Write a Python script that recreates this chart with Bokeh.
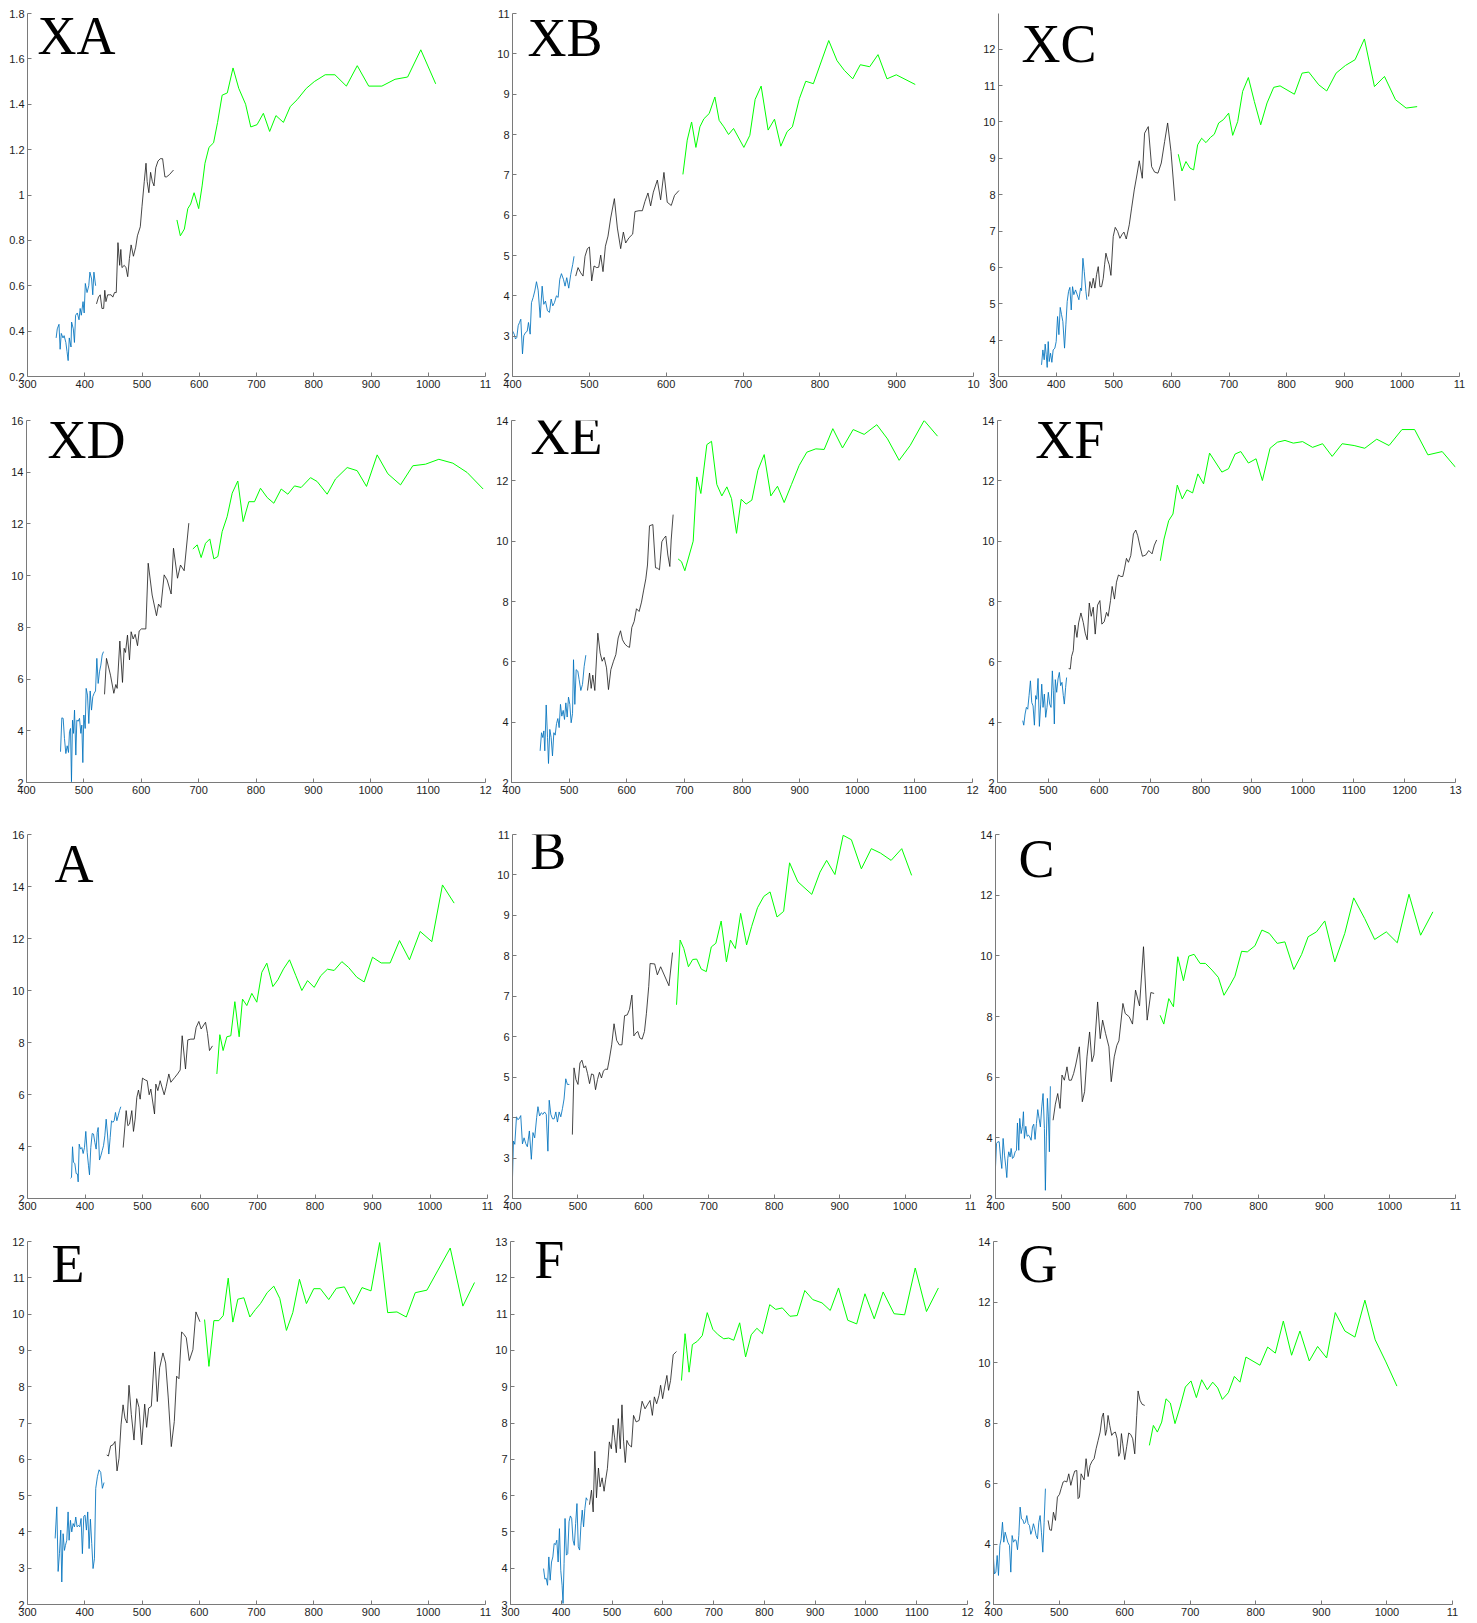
from bokeh.plotting import figure
from bokeh.layouts import column, row
from bokeh.models import Label, FixedTicker, NumeralTickFormatter, Range1d
from bokeh.embed import file_html
from bokeh.resources import INLINE

# ---------------- data ----------------
XA_blue_x = [350,352,355,357,359,362,364,367,369,371,373,376,377,380,382,384,387,390,392,394,397,399,401,404,407,409,412,414,416,419]
XA_blue_y = [0.37,0.41,0.43,0.32,0.39,0.37,0.38,0.35,0.31,0.27,0.37,0.33,0.44,0.41,0.35,0.47,0.48,0.45,0.50,0.47,0.53,0.48,0.61,0.57,0.60,0.66,0.63,0.56,0.66,0.60]
XA_black_x = [420.5,424,427,430,433,435,437,440,443,446,449,452,455,458,461,463,465,469,472,475,478,481,485,489,492,497,500,504,507,509,512,515,518,521,524,528,532,536,540,543,548,555]
XA_black_y = [0.52,0.55,0.56,0.50,0.50,0.58,0.53,0.56,0.56,0.56,0.55,0.57,0.57,0.79,0.69,0.76,0.68,0.69,0.68,0.64,0.72,0.78,0.73,0.77,0.82,0.86,0.95,1.06,1.14,1.06,1.01,1.10,1.06,1.04,1.12,1.15,1.16,1.16,1.08,1.08,1.09,1.11]
XA_green_x = [561,567,574,580,585,591,599,605,610,617,625,632,640,649,659,669,681,690,701,712,723,734,747,759,771,787,801,820,837,857,876,896,919,942,964,987,1013]
XA_green_y = [0.89,0.82,0.85,0.94,0.96,1.01,0.94,1.04,1.14,1.21,1.23,1.32,1.44,1.45,1.56,1.47,1.40,1.30,1.31,1.36,1.28,1.35,1.32,1.39,1.42,1.47,1.50,1.53,1.53,1.48,1.57,1.48,1.48,1.51,1.52,1.64,1.49]

XB_blue_x = [400,402.2,403.9,405.6,407.4,409.1,410.8,413.0,414.7,416.9,419.1,420.8,423.0,424.7,426.9,429.0,431.2,433.4,436.0,438.6,440.7,442.9,445.5,448.1,450.3,452.4,454.6,457.2,459.4,461.5,463.7,466.3,468.4,470.6,473.2,475.8,478.4,480.1]
XB_blue_y = [3.13,3.05,2.93,2.97,3.26,3.34,3.42,2.56,3.01,3.09,3.12,3.34,3.05,3.83,3.96,4.12,4.35,4.14,3.46,4.24,3.79,3.87,3.63,3.59,3.92,3.75,3.83,4.00,3.96,4.41,4.55,4.41,4.24,4.45,4.19,4.53,4.78,4.98]
XB_black_x = [482.3,485.3,488.8,491.8,494.4,497.5,500.1,503.1,506.1,509.6,512.2,514.8,517.8,520.9,524.3,527.8,532.6,536.5,540.8,544.3,547.3,551.6,556.4,559.4,564.6,569.0,572.4,576.3,579.8,583.3,588.5,592.8,597.1,601.4,606.6,610.9,616.6]
XB_black_y = [4.49,4.70,4.57,4.49,4.98,5.17,5.21,4.37,4.74,4.70,4.71,5.01,4.60,5.23,5.48,5.93,6.41,5.68,5.17,5.58,5.31,5.44,5.53,6.09,6.11,6.11,6.34,6.55,6.23,6.57,6.87,6.38,7.06,6.32,6.24,6.49,6.61]
XB_green_x = [621.8,627.4,633.1,638.7,643.9,649.1,656.0,663.4,669.0,675.1,681.2,687.7,701.1,708.9,715.8,723.6,732.7,741.0,749.2,757.4,764.3,773.4,781.7,791.6,811.6,822.4,831.9,842.8,852.7,864.9,875.7,887.4,899.5,924.2]
XB_green_y = [7.01,7.86,8.31,7.68,8.19,8.39,8.52,8.93,8.35,8.19,8.00,8.15,7.68,7.98,8.87,9.20,8.11,8.38,7.71,8.07,8.19,8.89,9.32,9.26,10.33,9.83,9.59,9.38,9.73,9.68,9.98,9.38,9.48,9.24]

XC_blue_x = [374.7,377.0,379.3,381.0,382.8,384.5,386.3,388.0,390.3,392.6,394.9,397.8,400.1,402.5,404.8,407.1,409.4,411.7,414.6,416.9,419.2,421.6,423.9,426.2,428.5,430.8,433.7,436.6,439.5,442.4,444.1,446.5,448.8,451.7,453.4]
XC_blue_y = [3.32,3.73,3.46,3.89,3.60,3.25,3.96,3.41,3.64,3.39,3.73,3.78,3.96,4.65,4.15,4.90,4.70,4.51,3.78,4.42,5.06,5.34,5.45,4.83,5.47,5.25,5.38,5.25,5.11,5.43,5.36,6.25,5.89,5.34,5.11]
XC_black_x = [456.3,458.6,461.5,464.4,467.3,470.2,473.1,476.0,478.9,481.8,484.1,486.4,489.3,492.2,495.1,499.1,502.6,506.7,510.7,514.2,517.7,521.7,526.9,531.0,535.6,540.2,544.3,549.5,553.5,559.9,565.7,570.9,576.7,582.5,588.3,593.5,599.3,606.2]
XC_black_y = [5.20,5.61,5.43,5.70,5.43,5.80,6.02,5.47,5.47,5.70,6.07,6.39,6.21,6.07,5.78,6.85,7.10,6.99,6.80,6.90,6.97,6.78,7.17,7.63,8.13,8.54,8.93,8.45,9.69,9.87,8.77,8.62,8.59,8.87,9.46,9.97,9.19,7.83]
XC_green_x = [612.0,618.4,625.3,632.3,638.6,645.6,652.5,660.1,667.6,674.5,682.1,690.2,699.4,706.4,715.1,723.7,733.6,744.0,755.0,766.0,777.6,788.6,813.5,826.8,838.4,855.7,869.6,885.8,902.0,918.8,935.0,952.4,969.8,988.9,1007.4,1026.5]
XC_green_y = [9.11,8.65,8.91,8.73,8.68,9.37,9.55,9.43,9.57,9.66,9.97,10.06,10.24,9.63,10.01,10.84,11.22,10.56,9.92,10.52,10.95,10.99,10.76,11.34,11.37,11.02,10.85,11.34,11.55,11.71,12.28,10.97,11.25,10.61,10.38,10.42]

XD_blue_x = [459.3,461.6,463.9,466.2,468.6,470.9,473.2,474.9,476.7,478.4,480.2,481.9,483.7,486.0,487.7,490.1,492.4,494.7,496.4,498.2,499.9,502.3,504.0,506.3,508.6,511.0,513.3,515.6,517.9,520.3,522.6,524.9,527.2,529.6,531.9,534.2]
XD_blue_y = [3.19,4.50,4.48,3.70,3.12,3.42,3.16,3.96,4.09,2.03,4.41,3.90,4.80,3.06,4.41,4.37,4.48,3.90,4.22,2.77,4.61,4.09,5.64,5.38,4.28,5.54,4.80,5.32,5.45,5.54,6.80,5.83,6.28,6.54,6.93,7.06]
XD_black_x = [536.0,539.4,546.4,552.2,555.7,558.0,562.7,567.3,570.2,572.5,576.0,579.5,582.4,585.9,589.4,593.5,596.4,600.4,608.0,612.1,619.0,626.6,630.1,634.1,639.9,645.2,652.1,656.2,663.2,668.4,674.8,682.9]
XD_black_y = [5.41,6.80,6.15,5.45,5.79,5.64,7.47,5.87,7.19,7.03,7.70,6.74,7.83,7.55,7.73,7.29,7.86,7.94,7.94,10.48,9.25,8.45,8.90,8.77,10.03,9.83,9.29,11.06,9.90,10.41,10.19,12.03]
XD_green_x = [689.9,697.5,704.4,712.0,719.5,726.5,733.5,741.0,749.7,758.5,768.3,777.6,787.5,797.4,807.8,819.5,831.1,843.9,855.5,867.1,878.7,895.0,906.6,924.0,938.6,958.9,976.3,992.6,1011.2,1029.8,1051.9,1073.3,1095.4,1118.7,1143.1,1168.0,1195.9]
XD_green_y = [11.03,11.19,10.70,11.25,11.42,10.65,10.74,11.70,12.28,13.19,13.66,12.09,12.86,12.86,13.38,13.02,12.80,13.35,13.15,13.47,13.41,13.79,13.64,13.15,13.74,14.18,14.06,13.45,14.67,13.94,13.51,14.25,14.31,14.50,14.35,13.99,13.35]

XE_blue_x = [449.7,452.1,454.4,456.1,457.8,460.2,462.5,464.2,466.5,468.8,471.1,473.5,475.8,478.1,480.4,482.7,485.0,487.3,489.7,492.0,494.3,496.6,498.9,501.2,503.5,505.9,507.6,509.9,512.2,515.1,517.4,520.3,523.2,526.1,529.0]
XE_blue_y = [3.05,3.65,3.49,3.71,3.05,4.57,3.49,2.63,3.76,3.49,2.88,3.65,3.57,3.95,4.12,3.82,4.59,4.20,4.39,4.09,4.64,4.17,4.83,4.59,3.98,4.28,6.07,4.59,5.74,5.69,5.41,5.05,5.25,5.85,6.22]
XE_black_x = [531.9,535.4,538.3,541.1,544.6,549.8,553.9,557.3,560.8,564.9,568.3,572.4,577.0,581.1,585.1,589.2,592.6,596.7,601.3,604.8,608.8,612.9,616.9,621.5,625.6,629.1,633.1,636.0,639.5,645.3,649.9,653.4,656.8,660.9,664.3,667.8,671.3,674.8,677.1,680.5]
XE_black_y = [5.05,5.63,5.12,5.56,5.05,6.95,6.29,6.02,6.15,5.80,5.08,5.74,6.02,6.24,6.79,7.03,6.73,6.59,6.51,6.48,7.14,7.34,7.76,7.67,7.98,8.35,8.75,9.21,10.51,10.55,9.12,9.10,9.05,9.98,10.09,10.17,9.54,9.16,10.04,10.88]
XE_green_x = [689.2,695.0,700.8,715.3,721.6,728.6,739.0,747.1,756.3,765.0,773.7,781.8,790.5,798.6,807.2,817.1,827.5,838.5,850.0,861.6,873.2,885.9,899.2,912.5,928.1,942.6,957.6,974.4,992.9,1012.0,1034.0,1052.5,1072.7,1091.8,1116.1,1139.3]
XE_green_y = [9.41,9.32,9.02,10.00,12.13,11.58,13.20,13.31,11.88,11.50,11.80,11.41,10.26,11.39,11.23,11.36,12.35,12.87,11.50,11.82,11.28,11.88,12.51,12.95,13.06,13.04,13.73,13.09,13.70,13.54,13.86,13.39,12.68,13.17,14.00,13.48]

XF_blue_x = [449.6,451.6,454.2,456.8,459.4,462.0,464.7,467.3,469.9,472.5,475.1,477.1,479.7,482.3,484.9,486.9,489.5,492.1,494.7,497.3,499.9,502.5,505.2,507.8,509.7,511.7,513.6,516.3,518.9,521.5,524.1,526.7,529.3,531.3,533.9,535.8]
XF_blue_y = [4.05,3.90,4.27,4.49,4.43,4.88,5.37,4.65,4.54,3.90,4.88,4.76,5.45,3.86,4.60,5.26,4.49,4.93,4.16,4.49,4.99,4.60,4.49,5.70,5.04,3.94,5.41,4.99,5.43,5.65,5.21,5.32,4.88,4.60,5.15,5.48]
XF_black_x = [539.8,543.0,545.6,548.9,552.2,556.1,559.4,563.9,568.5,572.4,576.3,580.3,584.2,588.1,592.0,596.6,601.2,605.1,609.7,614.2,617.5,622.1,625.3,629.9,633.8,637.7,642.3,646.2,649.5,653.4,657.3,661.9,667.1,671.7,675.6,679.5,684.8,691.3,697.2,703.7,708.3,712.8]
XF_black_y = [5.78,5.76,6.18,6.37,7.22,6.81,7.29,7.62,7.31,6.95,6.73,7.95,7.51,7.81,6.92,7.88,8.03,7.25,7.33,7.64,7.51,8.03,8.50,8.08,8.64,8.88,8.83,8.83,9.08,9.43,9.30,9.52,10.24,10.37,10.18,9.87,9.50,9.54,9.69,9.58,9.87,10.04]
XF_green_x = [720.0,727.2,736.4,744.8,753.3,763.1,772.3,783.4,793.8,804.9,816.7,840.9,853.9,867.0,878.1,893.1,908.1,920.5,935.6,949.9,964.9,981.3,999.6,1019.2,1038.8,1057.7,1077.3,1100.8,1121.7,1145.2,1169.4,1194.8,1219.7,1245.8,1273.9,1300.0]
XF_green_y = [9.35,10.07,10.68,10.90,11.86,11.40,11.70,11.60,12.23,11.90,12.92,12.29,12.40,12.89,12.97,12.59,12.73,12.01,13.08,13.28,13.34,13.25,13.30,13.11,13.23,12.81,13.23,13.17,13.08,13.38,13.17,13.70,13.70,12.86,12.97,12.45]

A_blue_x = [374.8,376.5,378.3,380.0,382.3,384.6,387.0,388.1,389.9,392.2,394.5,396.8,399.1,401.4,403.8,406.1,407.8,410.1,412.5,414.8,417.1,419.4,421.2,422.9,425.2,427.5,429.9,432.2,434.5,436.8,439.1,441.4,443.8,446.1,448.4,450.7,453.0,455.4,457.7,460.0,462.3]
A_blue_y = [2.78,2.81,3.99,3.39,3.35,2.96,2.94,2.64,4.09,3.90,3.96,3.73,3.96,4.58,3.77,3.26,2.91,3.96,4.50,4.48,4.16,3.90,4.54,4.73,3.48,3.64,3.84,4.03,4.41,5.05,4.48,3.71,4.35,4.99,4.93,4.99,5.31,4.99,5.18,5.38,5.53]
A_black_x = [466.4,471.6,474.5,477.4,481.4,484.3,487.2,490.1,493.0,495.9,500.0,504.6,508.1,511.6,514.5,520.9,523.2,526.7,530.7,537.7,541.2,545.8,549.3,556.2,560.9,565.5,569.0,574.8,578.8,584.1,589.9,593.3,598.0,602.0,609.6,613.0,616.5,621.7]
A_black_y = [3.96,5.38,4.80,4.86,5.38,4.58,5.05,5.89,6.17,5.82,6.63,6.56,6.53,5.99,6.21,5.25,6.40,6.15,6.53,5.99,6.30,6.79,6.47,6.66,6.79,6.94,8.26,6.98,8.10,8.13,8.13,8.58,8.81,8.52,8.78,8.35,7.69,7.87]
A_green_x = [629.3,634.5,640.2,646.7,653.6,660.6,668.1,673.9,681.4,690.1,698.8,707.5,716.2,726.7,735.4,745.2,755.7,766.7,777.1,787.0,798.6,810.1,821.7,833.3,846.7,858.3,872.8,885.5,900.0,915.1,930.7,947.0,964.3,982.9,1003.2,1021.7,1042.0]
A_green_y = [6.79,8.30,7.69,8.22,8.26,9.57,8.22,9.67,9.42,9.89,9.55,10.70,11.05,10.15,10.41,10.83,11.18,10.57,10.00,10.38,10.12,10.57,10.82,10.77,11.11,10.89,10.51,10.33,11.28,11.06,11.06,11.92,11.18,12.27,11.88,14.06,13.36]

B_blue_x = [400.0,401.5,403.5,406.1,408.1,410.1,412.6,415.2,417.7,420.2,422.7,425.8,428.8,431.3,433.9,436.9,438.9,441.4,444.0,446.5,449.0,451.6,454.1,456.1,458.6,461.2,463.7,466.2,468.7,471.3,473.8,476.3,478.8,481.4,483.9,486.9]
B_blue_y = [2.52,3.42,3.34,4.02,3.95,3.97,4.05,3.35,3.50,3.36,3.28,3.67,2.97,3.63,3.50,4.00,4.27,4.04,4.12,4.08,4.14,4.08,3.17,4.43,4.08,3.97,3.97,4.14,3.89,4.14,4.02,4.22,4.46,4.96,4.82,4.82]
B_black_x = [491.5,494.0,497.0,500.1,503.1,506.1,509.2,511.7,514.7,517.8,520.8,523.8,526.9,529.9,532.9,536.0,539.0,542.0,545.1,548.1,551.6,555.2,559.2,563.2,567.3,571.3,575.4,578.9,582.5,585.5,588.5,591.5,594.6,598.1,601.7,604.7,608.2,610.3,617.3,621.4,626.4,639.1,644.6]
B_black_y = [3.58,5.23,4.94,4.82,5.35,5.42,5.23,5.28,5.09,4.84,5.08,5.06,4.69,4.94,5.12,4.98,5.15,5.20,5.19,5.45,5.80,6.32,5.91,5.80,5.80,6.52,6.54,6.68,7.03,6.02,6.09,6.13,5.97,5.94,6.13,6.58,7.24,7.81,7.80,7.53,7.73,7.26,8.08]
B_green_x = [650.7,656.2,661.8,668.9,675.4,681.5,688.6,696.2,703.8,710.8,718.9,727.0,733.1,740.6,748.7,757.8,765.4,774.5,784.1,793.7,804.3,814.4,823.5,836.2,857.4,870.0,880.1,892.8,905.4,918.0,933.2,948.4,962.5,978.7,994.9,1010.0]
B_green_y = [6.79,8.39,8.18,7.73,7.91,7.92,7.67,7.61,8.22,8.31,8.86,7.85,8.39,8.18,9.05,8.27,8.72,9.19,9.47,9.58,8.96,9.10,10.30,9.83,9.52,10.07,10.36,10.01,10.98,10.87,10.15,10.65,10.54,10.36,10.65,9.99]

C_blue_x = [400.0,401.5,403.5,405.6,407.6,409.6,411.6,413.7,415.7,417.2,418.7,420.2,422.3,423.8,425.8,427.8,429.9,431.9,433.4,435.4,436.9,439.0,441.0,442.5,444.0,446.1,448.1,450.1,452.1,454.2,456.2,458.2,460.2,462.3,464.3,466.3,468.3,470.4,472.4,474.4,475.9,477.4,479.0,480.5,482.0,483.5]
C_blue_y = [3.04,3.81,3.87,3.87,3.37,2.99,3.98,3.43,3.04,2.69,3.32,3.54,3.37,3.65,3.32,3.37,3.54,3.59,4.49,3.59,4.64,4.14,4.38,4.86,3.98,4.38,4.05,4.09,4.03,3.92,4.36,4.45,3.95,4.47,4.93,4.64,4.36,5.02,5.46,4.31,2.27,4.03,5.30,4.69,3.54,5.70]
C_black_x = [487.6,491.1,494.7,498.2,501.2,504.8,508.8,511.9,515.4,518.9,522.0,527.6,532.1,535.6,539.2,543.2,546.8,549.8,555.4,559.4,563.0,567.5,572.6,576.1,580.7,584.7,587.8,593.9,597.4,603.5,608.5,613.1,619.2,625.2,630.8,636.4,641.4]
C_black_y = [4.58,5.11,5.46,4.97,6.07,5.90,6.34,5.90,5.90,6.12,6.40,7.00,5.19,5.52,6.67,7.49,6.51,6.73,8.48,7.27,7.88,7.44,7.00,5.85,6.67,7.05,7.20,8.43,8.10,7.99,7.75,8.87,8.35,10.30,7.88,8.79,8.76]
C_green_x = [650.5,656.1,663.7,670.8,677.4,686.0,694.1,702.2,711.3,719.4,729.5,739.1,747.7,756.8,764.4,774.5,783.2,794.8,805.4,816.6,828.7,840.4,854.0,865.7,875.8,888.4,901.1,916.3,931.5,945.1,961.8,977.0,994.7,1011.4,1029.2,1046.9,1065.6]
C_green_y = [8.04,7.75,8.59,8.32,9.97,9.18,9.99,10.05,9.75,9.75,9.53,9.29,8.70,9.03,9.33,10.15,10.13,10.33,10.85,10.74,10.41,10.46,9.55,10.04,10.63,10.79,11.15,9.80,10.74,11.91,11.23,10.54,10.79,10.43,12.03,10.68,11.45]

E_blue_x = [348.3,351.2,353.5,355.8,358.1,359.9,362.2,364.5,366.3,368.6,370.9,372.7,375.0,377.3,379.7,382.0,384.3,386.6,389.0,391.3,393.6,395.9,398.3,400.6,402.9,405.2,407.6,409.9,412.2,414.5,416.9,419.2,422.1,425.0,427.9,430.8,433.7]
E_blue_y = [3.82,4.69,2.91,3.40,4.05,2.62,3.95,3.49,3.63,3.77,4.55,3.77,4.32,4.00,4.23,4.14,4.41,4.14,4.18,4.14,4.37,3.40,4.43,4.46,4.05,4.55,3.54,4.35,3.68,2.99,3.26,5.20,5.52,5.71,5.64,5.20,5.36]
E_black_x = [438.4,441.3,445.3,449.4,452.9,456.4,459.9,463.4,466.9,470.3,473.8,477.3,481.4,486.0,490.7,494.8,499.4,504.7,508.1,511.6,516.3,522.1,526.7,530.8,536.6,541.3,545.9,551.2,556.4,560.5,564.5,569.2,573.3,577.3,582.6,588.9,594.2,601.2]
E_black_y = [6.12,6.09,6.37,6.40,6.49,5.68,6.03,6.95,7.50,7.13,7.00,8.04,7.23,6.53,7.67,7.43,6.40,7.52,6.88,7.41,7.46,8.96,7.59,8.52,8.93,8.65,7.69,6.35,7.04,8.29,8.22,9.51,9.44,9.35,8.72,9.02,10.06,9.79]
E_green_x = [609.3,616.9,625.6,634.3,641.9,650.6,658.7,667.4,677.9,688.4,698.3,707.0,718.6,730.2,740.7,752.3,763.4,775.0,787.2,800.0,811.6,826.2,839.5,853.5,869.8,884.3,900.0,915.1,929.1,945.3,961.6,977.3,997.7,1016.3,1038.4,1060.5,1080.8]
E_green_y = [9.85,8.56,9.82,9.82,9.96,10.99,9.78,10.41,10.45,9.92,10.13,10.29,10.59,10.77,10.43,9.55,10.04,10.96,10.29,10.70,10.70,10.40,10.71,10.75,10.27,10.73,10.64,11.97,10.04,10.06,9.92,10.59,10.66,11.19,11.82,10.22,10.87]

F_blue_x = [365.1,367.7,370.3,372.9,375.5,378.1,380.8,383.4,386.0,388.6,391.2,393.8,396.4,399.0,401.6,403.5,405.5,407.4,410.1,412.7,415.3,417.9,420.5,423.1,425.7,428.3,430.9,433.5,436.1,438.7,441.3,443.9,446.5,449.1,451.7]
F_blue_y = [3.99,3.70,3.72,3.53,4.31,3.67,4.17,4.31,4.68,4.65,4.77,4.17,5.09,3.94,3.53,3.03,4.13,5.37,4.36,4.40,5.28,5.44,5.37,4.77,4.63,5.23,5.78,4.59,4.50,5.18,5.60,5.14,5.64,5.94,5.87]
F_black_x = [455.6,459.5,462.8,466.1,469.3,473.2,476.5,480.4,484.3,487.5,490.8,494.7,498.6,501.9,505.1,508.4,512.3,516.2,519.5,522.7,526.0,529.2,533.1,538.3,542.3,547.5,553.3,559.2,565.0,569.6,574.8,579.4,583.3,587.8,592.4,595.6,599.6,603.5,608.0,611.3,615.2,620.4,626.9]
F_black_y = [5.75,6.15,5.55,7.22,5.94,6.76,6.24,6.49,6.12,6.45,6.74,7.48,7.29,7.94,7.59,7.18,8.12,7.29,8.50,7.50,6.91,7.52,7.40,7.34,8.21,8.03,8.07,8.60,8.39,8.50,8.62,8.21,8.72,8.53,8.76,9.04,8.67,8.99,9.31,8.90,9.17,9.88,9.97]
F_green_x = [636.7,643.8,651.7,658.2,667.9,677.7,687.5,698.5,709.0,720.0,729.8,739.6,751.3,763.0,774.1,785.2,796.2,810.5,822.3,835.3,850.3,864.6,879.6,895.2,913.4,929.7,946.0,964.2,981.8,998.1,1016.3,1033.9,1055.4,1076.2,1097.1,1119.2,1142.7]
F_green_y = [9.17,10.46,9.40,10.16,10.25,10.41,11.04,10.58,10.43,10.32,10.34,10.28,10.76,9.82,10.43,10.61,10.46,11.26,11.13,11.17,10.94,10.96,11.65,11.40,11.31,11.10,11.72,10.83,10.73,11.56,10.87,11.61,11.01,10.98,12.27,11.07,11.72]

G_blue_x = [400.0,401.5,403.6,405.6,407.6,409.7,411.7,413.7,415.7,417.8,419.8,421.8,424.4,426.4,428.4,430.5,432.5,434.5,436.6,438.6,440.6,442.7,444.7,446.7,448.8,450.8,452.8,454.9,456.9,458.9,460.9,463.0,465.0,467.1,469.1,471.1,473.1,475.2,477.2,479.2]
G_blue_y = [3.51,3.01,3.07,3.62,2.96,3.95,4.17,4.72,4.06,4.39,4.23,4.06,3.95,3.07,4.28,4.06,4.14,4.12,3.81,4.28,5.22,4.83,4.80,4.67,4.72,4.94,4.67,4.61,4.32,4.45,4.67,4.50,4.28,4.17,4.72,4.94,4.39,3.73,4.72,5.83]
G_black_x = [483.3,485.8,488.4,491.4,494.5,497.5,500.6,503.1,506.2,508.7,511.8,514.8,517.9,520.9,523.9,527.0,529.0,531.1,533.6,536.1,538.2,541.2,544.3,547.3,550.4,553.4,556.5,559.5,562.6,565.6,567.6,570.7,572.7,574.7,577.3,580.3,582.9,585.9,588.5,591.0,593.0,595.1,597.1,600.1,603.2,606.2,609.3,612.3,615.4,618.4,620.5,623.5,626.6,630.6]
G_black_y = [4.78,4.47,4.45,5.05,4.78,5.55,5.64,5.83,6.05,6.08,6.05,6.32,5.94,6.21,6.41,6.43,5.50,5.55,6.32,6.21,6.12,6.82,6.23,6.60,6.74,6.82,7.15,7.42,7.70,8.20,8.33,7.59,7.78,8.25,7.92,7.59,7.67,7.70,7.48,6.90,7.01,7.65,7.31,6.79,7.23,7.67,7.62,7.48,6.98,8.25,9.06,8.75,8.62,8.58]
G_green_x = [637.7,643.8,649.9,656.5,663.1,669.7,676.8,684.5,692.6,701.2,709.4,717.5,726.1,734.3,741.9,749.0,758.1,767.3,775.9,785.0,806.4,818.1,829.8,842.0,854.6,867.3,881.6,894.3,908.0,921.2,935.9,951.2,966.4,982.1,998.4,1015.2]
G_green_y = [7.26,7.92,7.70,8.03,8.80,8.66,7.98,8.53,9.19,9.39,8.84,9.43,9.10,9.35,9.16,8.78,9.00,9.54,9.35,10.18,9.91,10.51,10.31,11.37,10.24,11.04,10.05,10.53,10.15,11.65,11.04,10.84,12.06,10.75,10.02,9.22]

# axis ranges and tick labels
XA_xrange = (300, 1100); XA_yrange = (0.2, 1.8)
XB_xrange = (400, 1000); XB_yrange = (2, 11)
XC_xrange = (300, 1100); XC_yrange = (3, 12.98)
XD_xrange = (400, 1200); XD_yrange = (2, 16)
XE_xrange = (400, 1200); XE_yrange = (2, 14)
XF_xrange = (400, 1300); XF_yrange = (2, 14)
A_xrange = (300, 1100); A_yrange = (2, 16)
B_xrange = (400, 1100); B_yrange = (2, 11)
C_xrange = (400, 1100); C_yrange = (2, 14)
E_xrange = (300, 1100); E_yrange = (2, 12)
F_xrange = (300, 1200); F_yrange = (3, 13)
G_xrange = (400, 1100); G_yrange = (2, 14)

xticks_300_1100 = [300, 400, 500, 600, 700, 800, 900, 1000, 1100]
xticks_300_1200 = [300, 400, 500, 600, 700, 800, 900, 1000, 1100, 1200]
xticks_400_1000 = [400, 500, 600, 700, 800, 900, 1000]
xticks_400_1100 = [400, 500, 600, 700, 800, 900, 1000, 1100]
xticks_400_1200 = [400, 500, 600, 700, 800, 900, 1000, 1100, 1200]
xticks_400_1300 = [400, 500, 600, 700, 800, 900, 1000, 1100, 1200, 1300]
yticks_02_18 = [0.2, 0.4, 0.6, 0.8, 1.0, 1.2, 1.4, 1.6, 1.8]
yticks_2_11 = [2, 3, 4, 5, 6, 7, 8, 9, 10, 11]
yticks_3_12 = [3, 4, 5, 6, 7, 8, 9, 10, 11, 12]
yticks_2_16 = [2, 4, 6, 8, 10, 12, 14, 16]
yticks_2_14 = [2, 4, 6, 8, 10, 12, 14]
yticks_2_12 = [2, 3, 4, 5, 6, 7, 8, 9, 10, 11, 12]
yticks_3_13 = [3, 4, 5, 6, 7, 8, 9, 10, 11, 12, 13]

# the last x tick label of every panel is cut off at the panel edge in the source
XA_xlast = "11"; XB_xlast = "10"; XC_xlast = "11"
XD_xlast = "12"; XE_xlast = "12"; XF_xlast = "13"
A_xlast = "11"; B_xlast = "11"; C_xlast = "11"
E_xlast = "11"; F_xlast = "12"; G_xlast = "11"

PANELS = {
    "XA": (XA_xrange, XA_yrange, xticks_300_1100, yticks_02_18, XA_xlast, XA_blue_x, XA_blue_y, XA_black_x, XA_black_y, XA_green_x, XA_green_y),
    "XB": (XB_xrange, XB_yrange, xticks_400_1000, yticks_2_11, XB_xlast, XB_blue_x, XB_blue_y, XB_black_x, XB_black_y, XB_green_x, XB_green_y),
    "XC": (XC_xrange, XC_yrange, xticks_300_1100, yticks_3_12, XC_xlast, XC_blue_x, XC_blue_y, XC_black_x, XC_black_y, XC_green_x, XC_green_y),
    "XD": (XD_xrange, XD_yrange, xticks_400_1200, yticks_2_16, XD_xlast, XD_blue_x, XD_blue_y, XD_black_x, XD_black_y, XD_green_x, XD_green_y),
    "XE": (XE_xrange, XE_yrange, xticks_400_1200, yticks_2_14, XE_xlast, XE_blue_x, XE_blue_y, XE_black_x, XE_black_y, XE_green_x, XE_green_y),
    "XF": (XF_xrange, XF_yrange, xticks_400_1300, yticks_2_14, XF_xlast, XF_blue_x, XF_blue_y, XF_black_x, XF_black_y, XF_green_x, XF_green_y),
    "A": (A_xrange, A_yrange, xticks_300_1100, yticks_2_16, A_xlast, A_blue_x, A_blue_y, A_black_x, A_black_y, A_green_x, A_green_y),
    "B": (B_xrange, B_yrange, xticks_400_1100, yticks_2_11, B_xlast, B_blue_x, B_blue_y, B_black_x, B_black_y, B_green_x, B_green_y),
    "C": (C_xrange, C_yrange, xticks_400_1100, yticks_2_14, C_xlast, C_blue_x, C_blue_y, C_black_x, C_black_y, C_green_x, C_green_y),
    "E": (E_xrange, E_yrange, xticks_300_1100, yticks_2_12, E_xlast, E_blue_x, E_blue_y, E_black_x, E_black_y, E_green_x, E_green_y),
    "F": (F_xrange, F_yrange, xticks_300_1200, yticks_3_13, F_xlast, F_blue_x, F_blue_y, F_black_x, F_black_y, F_green_x, F_green_y),
    "G": (G_xrange, G_yrange, xticks_400_1100, yticks_2_14, G_xlast, G_blue_x, G_blue_y, G_black_x, G_black_y, G_green_x, G_green_y),
}

# ---------------- layout (page pixels; the bokeh page has no body margin) ----------------
GRID = [["XA", "XB", "XC"], ["XD", "XE", "XF"], ["A", "B", "C"], ["E", "F", "G"]]
ROW_Y = [0, 402, 814, 1222, 1621]
ROW_FRAME_Y = [(13, 376), (420, 782), (834, 1198), (1241, 1604)]
ROW_X = [[0, 492, 980, 1466], [0, 492, 979, 1462], [0, 494, 977, 1462], [0, 492, 974, 1459]]
FRAME_X = {
    "XA": (27, 485), "XB": (512, 973), "XC": (998, 1459),
    "XD": (26, 485), "XE": (511, 972), "XF": (995, 1455),
    "A": (27, 487), "B": (508, 970), "C": (994, 1455),
    "E": (27, 485), "F": (506, 967), "G": (993, 1452),
}
LABEL_POS = {  # left edge, baseline
    "XA": (39, 53), "XB": (529, 55), "XC": (1023, 61),
    "XD": (49, 457), "XE": (532, 453), "XF": (1035, 457),
    "A": (56, 881), "B": (528, 868), "C": (1019, 876),
    "E": (53, 1281), "F": (532, 1277), "G": (1020, 1281),
}
LABEL_SIZE = 54
BASELINE_SHIFT = 18  # bokeh draws the alphabetic baseline this far below y
LEFT_SHIFT = 2

BLUE = "#0072BD"
BLACK = "#1a1a1a"
GREEN = "#00ff00"
AXIS = "#7a7a7a"
TICKTXT = "#1e1e1e"


def make_panel(name, x0, x1, y0, y1, ft, fb):
    xr, yr, xt, yt, xlast, bx, by, kx, ky, gx, gy = PANELS[name]
    fl, fr = FRAME_X[name]
    p = figure(width=x1 - x0, height=y1 - y0,
               x_range=Range1d(*xr), y_range=Range1d(*yr),
               output_backend="svg", toolbar_location=None,
               min_border_left=fl - x0, min_border_right=x1 - fr,
               min_border_top=ft - y0, min_border_bottom=y1 - fb)
    p.outline_line_color = None
    p.background_fill_color = "white"
    p.border_fill_color = "white"
    p.xgrid.visible = False
    p.ygrid.visible = False
    for ax, ticks in ((p.xaxis[0], xt), (p.yaxis[0], yt)):
        ax.ticker = FixedTicker(ticks=ticks)
        ax.formatter = NumeralTickFormatter(format="0.[0]")
        ax.major_tick_in = 4
        ax.major_tick_out = 0
        ax.minor_tick_line_color = None
        ax.axis_line_color = AXIS
        ax.major_tick_line_color = AXIS
        ax.major_label_text_font = "Liberation Sans"
        ax.major_label_text_font_size = "11px"
        ax.major_label_text_color = TICKTXT
        ax.major_label_standoff = 3
    p.xaxis[0].major_label_overrides = {xt[-1]: xlast}
    p.line(bx, by, line_color=BLUE, line_width=1, line_alpha=0.85)
    p.line(kx, ky, line_color=BLACK, line_width=1, line_alpha=0.8)
    p.line(gx, gy, line_color=GREEN, line_width=1)
    lx_px, lb_px = LABEL_POS[name]
    ox = lx_px - fl - LEFT_SHIFT
    oy = lb_px - ft - BASELINE_SHIFT
    lx = xr[0] + (xr[1] - xr[0]) * ox / (fr - fl)
    ly = yr[1] - (yr[1] - yr[0]) * oy / (fb - ft)
    p.add_layout(Label(x=lx, y=ly, text=name, text_font="Liberation Serif",
                       text_font_size=f"{LABEL_SIZE}px", text_color="black",
                       text_align="left", text_baseline="alphabetic"))
    return p


rows = []
for r, names in enumerate(GRID):
    ft, fb = ROW_FRAME_Y[r]
    figs = [make_panel(name, ROW_X[r][c], ROW_X[r][c + 1], ROW_Y[r], ROW_Y[r + 1], ft, fb)
            for c, name in enumerate(names)]
    rows.append(row(*figs))

layout = column(*rows)
open("out.html", "w").write(file_html(layout, INLINE))
